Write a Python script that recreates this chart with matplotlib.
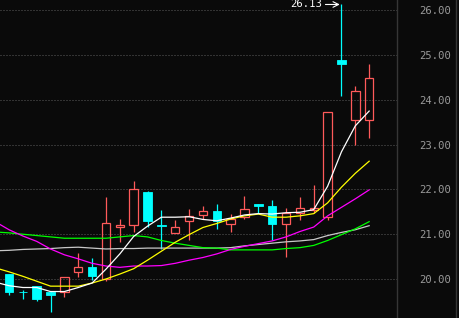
import matplotlib
matplotlib.use('Agg')
import matplotlib.pyplot as plt
import numpy as np
from matplotlib.patches import Rectangle
from matplotlib.lines import Line2D

# ---- candle data (visible window) ----
opens = [20.11, 19.72, 19.84, 19.71, 19.72, 20.15, 20.27, 19.99, 21.17, 21.20,
         21.94, 21.21, 21.03, 21.29, 21.42, 21.52, 21.22, 21.39, 21.67, 21.63,
         21.22, 21.47, 21.55, 21.39, 24.89, 23.54, 23.54]
highs = [20.11, 19.76, 19.84, 19.74, 20.04, 20.57, 20.46, 21.82, 21.33, 22.19,
         21.96, 21.54, 21.32, 21.56, 21.63, 21.67, 21.45, 21.85, 21.67, 21.76,
         21.59, 21.82, 22.10, 23.74, 26.13, 24.31, 24.80]
lows = [19.64, 19.55, 19.51, 19.27, 19.59, 20.04, 19.98, 19.96, 20.83, 21.06,
        21.17, 20.66, 21.03, 20.87, 21.33, 21.11, 21.06, 21.33, 21.47, 20.87,
        20.48, 21.32, 21.47, 21.32, 24.09, 22.99, 23.15]
closes = [19.72, 19.70, 19.56, 19.65, 20.04, 20.26, 20.07, 21.24, 21.20, 22.00,
          21.30, 21.19, 21.15, 21.40, 21.51, 21.29, 21.33, 21.56, 21.64, 21.23,
          21.47, 21.58, 21.58, 23.74, 24.79, 24.20, 24.48]

# ---- moving averages (one point before the first visible candle) ----
ma_white = [19.93, 19.85, 19.81, 19.81, 19.72, 19.72, 19.81, 19.91, 20.22, 20.56,
            20.95, 21.18, 21.38, 21.38, 21.39, 21.33, 21.30, 21.36, 21.43, 21.46,
            21.45, 21.48, 21.49, 21.55, 22.07, 22.84, 23.42, 23.75]
ma_yellow = [20.25, 20.16, 20.06, 19.95, 19.84, 19.84, 19.84, 19.91, 20.00, 20.11,
             20.23, 20.42, 20.62, 20.82, 20.99, 21.15, 21.24, 21.34, 21.41, 21.45,
             21.38, 21.38, 21.41, 21.46, 21.70, 22.05, 22.36, 22.63]
ma_magenta = [21.28, 21.10, 20.96, 20.84, 20.67, 20.54, 20.45, 20.35, 20.29, 20.26,
              20.29, 20.29, 20.30, 20.35, 20.42, 20.48, 20.56, 20.66, 20.73, 20.79,
              20.85, 20.94, 21.06, 21.16, 21.41, 21.60, 21.79, 21.99]
ma_green = [21.05, 21.03, 21.00, 20.97, 20.94, 20.91, 20.91, 20.91, 20.91, 20.94,
            20.97, 20.94, 20.86, 20.80, 20.75, 20.70, 20.69, 20.65, 20.65, 20.65,
            20.65, 20.68, 20.70, 20.75, 20.86, 20.99, 21.12, 21.28]
ma_gray = [20.63, 20.64, 20.66, 20.67, 20.68, 20.70, 20.71, 20.69, 20.67, 20.68,
           20.68, 20.69, 20.69, 20.69, 20.69, 20.69, 20.69, 20.70, 20.74, 20.77,
           20.80, 20.83, 20.85, 20.88, 20.97, 21.04, 21.10, 21.19]

yticks = [20, 21, 22, 23, 24, 25, 26]
ytick_labels = ['20.00', '21.00', '22.00', '23.00', '24.00', '25.00', '26.00']

BG = '#0a0a0a'
RED = '#ff5a5a'
CYAN = '#00ffff'

W, H = 459, 318
fig = plt.figure(figsize=(W / 100, H / 100), dpi=100, facecolor=BG)
ax = fig.add_axes([0, 0, 397 / W, 1])
ax.set_facecolor(BG)
ax.set_xlim(-0.65, 28.01)
ax.set_ylim(19.129, 26.23)

for s in ['left', 'top', 'bottom']:
    ax.spines[s].set_visible(False)
ax.spines['right'].set_color('#363636')
ax.spines['right'].set_linewidth(1.0)

ax.set_xticks([])
ax.set_yticks(yticks)
ax.set_yticklabels(ytick_labels, fontfamily='DejaVu Sans Mono')
ax.yaxis.tick_right()
ax.tick_params(axis='y', length=0, pad=16, labelcolor='#9a9a9a', labelsize=7.6)

for y in yticks:
    ax.axhline(y, color='#5c5c5c', lw=0.72, linestyle=(0, (1, 2)), zorder=0)

fig.add_artist(Line2D([455.5 / W, 455.5 / W], [0, 1], transform=fig.transFigure,
                      color='#363636', lw=1.0))

# candles
w = 0.61
for i, (o, h, l, c) in enumerate(zip(opens, highs, lows, closes)):
    if c >= o:
        top, bot = c, o
        ax.vlines(i, top, h, color=RED, lw=0.9, zorder=2)
        ax.vlines(i, l, bot, color=RED, lw=0.9, zorder=2)
        ax.add_patch(Rectangle((i - w / 2, bot), w, max(top - bot, 0.005),
                               fill=False, edgecolor=RED, lw=0.9, zorder=2))
    else:
        ax.vlines(i, l, h, color=CYAN, lw=0.9, zorder=2)
        ax.add_patch(Rectangle((i - w / 2, c), w, max(o - c, 0.02),
                               facecolor=CYAN, edgecolor=CYAN, lw=0.6, zorder=2))

xs = np.arange(-1, len(opens))
for vals, col in [(ma_gray, '#c8c8c8'), (ma_green, '#00ff00'), (ma_magenta, '#ff00ff'),
                  (ma_yellow, '#ffff00'), (ma_white, '#ffffff')]:
    ax.plot(xs, vals, color=col, lw=0.9, zorder=3)

# max-high annotation
idx = int(np.argmax(highs))
hmax = highs[idx]
ax.annotate('', xy=(idx, hmax), xytext=(-16, 0), textcoords='offset pixels',
            arrowprops=dict(arrowstyle='->', color='white', lw=0.8,
                            shrinkA=0, shrinkB=1.2), zorder=4)
ax.annotate(f'{hmax:.2f}', xy=(idx, hmax), xytext=(-19, 0), textcoords='offset pixels',
            ha='right', va='center', color='white', fontsize=7.6,
            fontfamily='DejaVu Sans Mono', zorder=4)

fig.savefig('out.png', dpi=100, facecolor=BG)
